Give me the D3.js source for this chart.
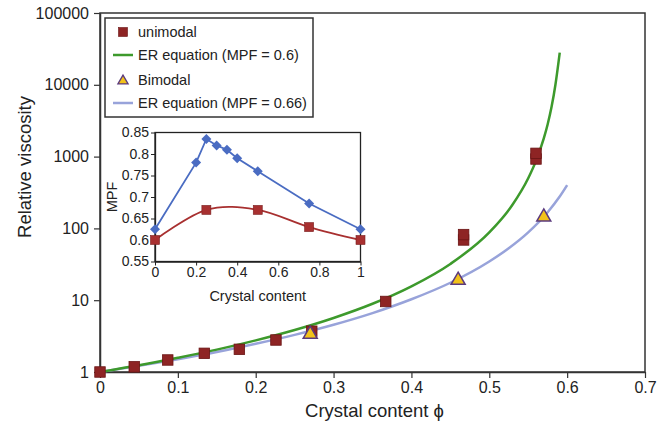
<!DOCTYPE html>
<html>
<head>
<meta charset="utf-8">
<script src="https://cdn.jsdelivr.net/npm/d3@7"></script>
<style>
  html, body { margin: 0; padding: 0; background: #fff; }
  svg { display: block; font-family: "Liberation Sans", Arial, sans-serif; }
</style>
</head>
<body>
<svg id="chart" width="670" height="433"></svg>
<script>
// ---- Main chart data: relative viscosity vs crystal content ----
const unimodalPhi = [0, 0.044, 0.087, 0.134, 0.179, 0.226, 0.272, 0.367, 0.467, 0.467, 0.560, 0.560];
const unimodalEta = [1, 1.18, 1.47, 1.82, 2.07, 2.79, 3.7, 9.6, 69, 82, 926, 1110];

const bimodalPhi = [0.270, 0.460, 0.570];
const bimodalEta = [3.46, 19.6, 149];

// ER equation curve, MPF = 0.6
const erPhi06 = [0, 0.05, 0.1, 0.15, 0.2, 0.25, 0.3, 0.35, 0.4, 0.45, 0.5, 0.53, 0.55, 0.56, 0.57, 0.575, 0.58, 0.585, 0.5905];
const erEta06 = [1, 1.24, 1.58, 2.05, 2.76, 3.85, 5.66, 8.92, 15.6, 32, 88, 215, 499, 871, 1790, 2820, 4930, 10100, 28000];

// ER equation curve, MPF = 0.66
const erPhi066 = [0, 0.05, 0.1, 0.15, 0.2, 0.25, 0.3, 0.35, 0.4, 0.45, 0.5, 0.525, 0.55, 0.575, 0.59, 0.6];
const erEta066 = [1, 1.22, 1.51, 1.9, 2.47, 3.29, 4.55, 6.61, 10.3, 17.5, 34.6, 52.9, 88, 168, 273, 401];

const xTicks = [0, 0.1, 0.2, 0.3, 0.4, 0.5, 0.6, 0.7];
const yTicks = [1, 10, 100, 1000, 10000, 100000];

// ---- Inset data: MPF vs crystal content ----
const insetBluePhi = [0, 0.2, 0.25, 0.3, 0.35, 0.4, 0.5, 0.75, 1];
const insetBlueMPF = [0.625, 0.78, 0.835, 0.82, 0.81, 0.79, 0.76, 0.685, 0.625];
const insetRedPhi = [0, 0.25, 0.5, 0.75, 1];
const insetRedMPF = [0.6, 0.67, 0.67, 0.63, 0.6];
const insetXTicks = [0, 0.2, 0.4, 0.6, 0.8, 1];
const insetYTicks = [0.55, 0.6, 0.65, 0.7, 0.75, 0.8, 0.85];

const legendLabels = ["unimodal", "ER equation (MPF = 0.6)", "Bimodal", "ER equation (MPF = 0.66)"];

// ---- Colours ----
const colSquare = "#8e2424", colSquareEdge = "#6a1414";
const colGreen = "#3d9a2c", colLavender = "#98a3da";
const colTriFill = "#f2c21a", colTriEdge = "#5b3a7e";
const colInsetBlue = "#4a6cc2", colInsetRed = "#a83030";
const colAxis = "#333", colText = "#222";

const svg = d3.select("#chart");

// ---- Main scales ----
const x = d3.scaleLinear().domain([0, 0.7]).range([100, 645]);
const y = d3.scaleLog().domain([1, 100000]).range([372, 13]);

const main = svg.append("g");

// frame (top and right edges)
main.append("rect")
  .attr("x", x(0)).attr("y", y(100000))
  .attr("width", x(0.7) - x(0)).attr("height", y(1) - y(100000))
  .attr("fill", "none").attr("stroke", colAxis).attr("stroke-width", 1.5);

const xAxis = d3.axisBottom(x).tickValues(xTicks).tickFormat(d3.format("")).tickSizeInner(6).tickSizeOuter(0).tickPadding(4);
const gx = main.append("g").attr("transform", `translate(0,${y(1)})`).call(xAxis);
const yAxis = d3.axisLeft(y).tickValues(yTicks).tickFormat(d => String(d)).tickSizeInner(6).tickSizeOuter(0).tickPadding(5);
const gy = main.append("g").attr("transform", `translate(${x(0)},0)`).call(yAxis);
[gx, gy].forEach(g => {
  g.select(".domain").attr("stroke", colAxis).attr("stroke-width", 1.5);
  g.selectAll(".tick line").attr("stroke", colAxis).attr("stroke-width", 1.2);
  g.selectAll(".tick text").attr("fill", colText).style("font-size", "16px").style("font-family", "Liberation Sans, Arial, sans-serif");
});

main.append("text")
  .attr("x", (x(0) + x(0.7)) / 2 + 2).attr("y", 417)
  .attr("text-anchor", "middle").attr("fill", colText).style("font-size", "18.5px")
  .text("Crystal content \u03d5");
main.append("text")
  .attr("transform", "translate(31,167) rotate(-90)")
  .attr("text-anchor", "middle").attr("fill", colText).style("font-size", "18.5px")
  .text("Relative viscosity");

// ER curves
const lineGen = d3.line().x(d => x(d[0])).y(d => y(d[1])).curve(d3.curveMonotoneX);
main.append("path").datum(d3.zip(erPhi066, erEta066)).attr("d", lineGen)
  .attr("fill", "none").attr("stroke", colLavender).attr("stroke-width", 2.5);
main.append("path").datum(d3.zip(erPhi06, erEta06)).attr("d", lineGen)
  .attr("fill", "none").attr("stroke", colGreen).attr("stroke-width", 2.5);

// unimodal squares
const sq = 10.5;
main.selectAll("rect.uni").data(d3.zip(unimodalPhi, unimodalEta)).join("rect")
  .attr("class", "uni")
  .attr("x", d => x(d[0]) - sq / 2).attr("y", d => y(d[1]) - sq / 2)
  .attr("width", sq).attr("height", sq)
  .attr("fill", colSquare).attr("stroke", colSquareEdge).attr("stroke-width", 0.8);

// bimodal triangles
const tri = d3.symbol().type(d3.symbolTriangle).size(85);
main.selectAll("path.bi").data(d3.zip(bimodalPhi, bimodalEta)).join("path")
  .attr("class", "bi")
  .attr("transform", d => `translate(${x(d[0])},${y(d[1]) + 1})`)
  .attr("d", tri)
  .attr("fill", colTriFill).attr("stroke", colTriEdge).attr("stroke-width", 1.5);

// ---- Legend ----
const lg = svg.append("g");
lg.append("rect").attr("x", 105).attr("y", 18).attr("width", 208).attr("height", 99)
  .attr("fill", "#fff").attr("stroke", colAxis).attr("stroke-width", 1.5);
const rowY = [32, 55, 80, 103];
lg.append("rect").attr("x", 118.5).attr("y", rowY[0] - 4.5).attr("width", 9).attr("height", 9)
  .attr("fill", colSquare).attr("stroke", colSquareEdge).attr("stroke-width", 0.6);
lg.append("line").attr("x1", 113).attr("x2", 133).attr("y1", rowY[1]).attr("y2", rowY[1])
  .attr("stroke", colGreen).attr("stroke-width", 2.5);
lg.append("path").attr("transform", `translate(123,${rowY[2] + 1})`)
  .attr("d", d3.symbol().type(d3.symbolTriangle).size(45))
  .attr("fill", colTriFill).attr("stroke", colTriEdge).attr("stroke-width", 1.3);
lg.append("line").attr("x1", 113).attr("x2", 133).attr("y1", rowY[3]).attr("y2", rowY[3])
  .attr("stroke", colLavender).attr("stroke-width", 2.5);
lg.selectAll("text").data(legendLabels).join("text")
  .attr("x", 138).attr("y", (d, i) => rowY[i] + 5)
  .attr("fill", colText).style("font-size", "14.5px")
  .text(d => d);

// ---- Inset ----
const ix = d3.scaleLinear().domain([0, 1]).range([155, 360.5]);
const iy = d3.scaleLinear().domain([0.55, 0.85]).range([261.5, 132.5]);
const inset = svg.append("g");
inset.append("rect")
  .attr("x", ix(0)).attr("y", iy(0.85)).attr("width", ix(1) - ix(0)).attr("height", iy(0.55) - iy(0.85))
  .attr("fill", "#fff").attr("stroke", "#222").attr("stroke-width", 1.3);

const ixAxis = d3.axisBottom(ix).tickValues(insetXTicks).tickFormat(d3.format("")).tickSizeInner(4).tickSizeOuter(0).tickPadding(2);
const iyAxis = d3.axisLeft(iy).tickValues(insetYTicks).tickFormat(d3.format("")).tickSizeInner(4).tickSizeOuter(0).tickPadding(2);
const igx = inset.append("g").attr("transform", `translate(0,${iy(0.55)})`).call(ixAxis);
const igy = inset.append("g").attr("transform", `translate(${ix(0)},0)`).call(iyAxis);
[igx, igy].forEach(g => {
  g.select(".domain").attr("stroke", "#222").attr("stroke-width", 1.3);
  g.selectAll(".tick line").attr("stroke", "#222");
  g.selectAll(".tick text").attr("fill", colText).style("font-size", "14px").style("font-family", "Liberation Sans, Arial, sans-serif");
});
inset.append("text").attr("x", (ix(0) + ix(1)) / 2).attr("y", 301)
  .attr("text-anchor", "middle").attr("fill", colText).style("font-size", "14.5px")
  .text("Crystal content");
inset.append("text").attr("transform", `translate(117,${iy(0.7)}) rotate(-90)`)
  .attr("text-anchor", "middle").attr("fill", colText).style("font-size", "14.5px")
  .text("MPF");

// blue: straight segments with diamonds
inset.append("path").datum(d3.zip(insetBluePhi, insetBlueMPF))
  .attr("d", d3.line().x(d => ix(d[0])).y(d => iy(d[1])))
  .attr("fill", "none").attr("stroke", colInsetBlue).attr("stroke-width", 1.8);
inset.selectAll("path.dia").data(d3.zip(insetBluePhi, insetBlueMPF)).join("path")
  .attr("class", "dia")
  .attr("transform", d => `translate(${ix(d[0])},${iy(d[1])}) rotate(45)`)
  .attr("d", d3.symbol().type(d3.symbolSquare).size(50))
  .attr("fill", colInsetBlue);

// red: smoothed line with squares
inset.append("path").datum(d3.zip(insetRedPhi, insetRedMPF))
  .attr("d", d3.line().x(d => ix(d[0])).y(d => iy(d[1])).curve(d3.curveCardinal.tension(0)))
  .attr("fill", "none").attr("stroke", colInsetRed).attr("stroke-width", 1.8);
inset.selectAll("rect.rsq").data(d3.zip(insetRedPhi, insetRedMPF)).join("rect")
  .attr("class", "rsq")
  .attr("x", d => ix(d[0]) - 4.5).attr("y", d => iy(d[1]) - 4.5)
  .attr("width", 9).attr("height", 9)
  .attr("fill", colInsetRed).attr("stroke", "#7a1e1e").attr("stroke-width", 0.6);
</script>
</body>
</html>
